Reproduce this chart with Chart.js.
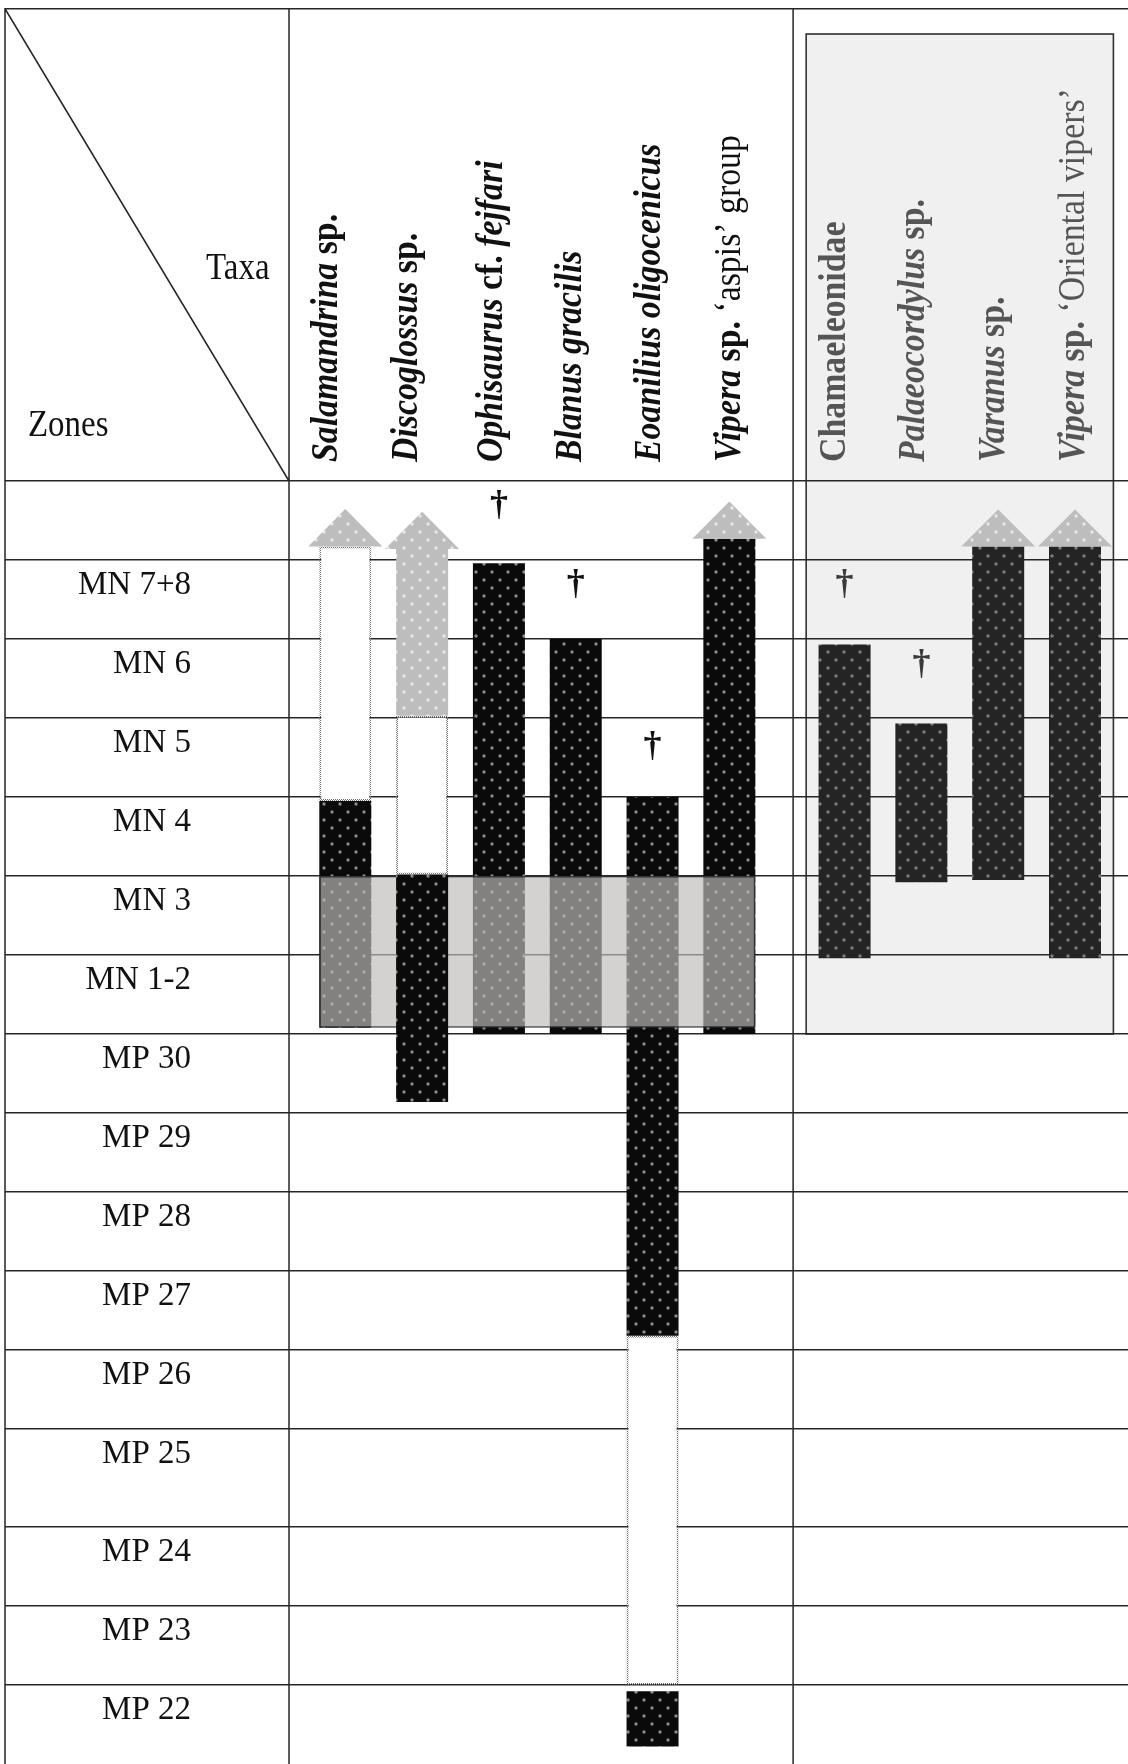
<!DOCTYPE html>
<html>
<head>
<meta charset="utf-8">
<title>Stratigraphic ranges of taxa</title>
<script src="https://cdn.jsdelivr.net/npm/chart.js@4.4.1/dist/chart.umd.min.js"></script>
<style>
  html, body { margin: 0; padding: 0; background: #fff; }
  canvas { display: block; }
</style>
</head>
<body>
<canvas id="chart" width="1128" height="1764"></canvas>
<script>
// taxa: six in the open part, four in the grey box
const taxa = ['Salamandrina sp.', 'Discoglossus sp.', 'Ophisaurus cf. fejfari', 'Blanus gracilis',
  'Eoanilius oligocenicus', 'Vipera sp. ‘aspis’ group',
  'Chamaeleonidae', 'Palaeocordylus sp.', 'Varanus sp.', 'Vipera sp. ‘Oriental vipers’'];
const taxonGroup = [1, 1, 1, 1, 1, 1, 2, 2, 2, 2];
const italicWords = ['Salamandrina', 'Discoglossus', 'Ophisaurus', 'fejfari', 'Blanus', 'gracilis',
  'Eoanilius', 'oligocenicus', 'Vipera', 'Palaeocordylus', 'Varanus'];

// zone rows, top to bottom (first row is the open one above MN 7+8)
const zones = ['', 'MN 7+8', 'MN 6', 'MN 5', 'MN 4', 'MN 3', 'MN 1-2', 'MP 30', 'MP 29',
  'MP 28', 'MP 27', 'MP 26', 'MP 25', 'MP 24', 'MP 23', 'MP 22'];

// [taxon, from, to] in zone rows, 0 = top of the open row
const records = [[0, 4.05, 6.92], [2, 1.04, 7], [3, 2, 7], [4, 4, 10.82], [4, 15.08, 15.78], [5, 0.73, 7]];
const recordsTop = [[1, 4.98, 7.86]];
const recordsBoxed = [[6, 2.07, 6.04], [7, 3.07, 5.08], [8, 0.83, 5.05], [9, 0.83, 6.04]];
const recordsGrey = [[1, 0.86, 2.97]];
const gaps = [[0, 0.83, 4.05], [1, 2.97, 4.98], [4, 10.82, 15]];
// [taxon, base, tip]
const arrows = [[0, 0.83, 0.355], [1, 0.86, 0.39], [5, 0.73, 0.26], [8, 0.83, 0.36], [9, 0.83, 0.36]];
// [taxon, row] of the dagger
const lastRecords = [[2, 0.3], [3, 1.31], [4, 3.36], [6, 1.31], [7, 2.32]];
// shaded MN 3 - MN 1-2 band
const bandTaxa = [0, 5];
const bandRows = [5, 6.92];

// layout
const W = 1128, H = 1764;
const PAD_LEFT = 5, PAD_TOP = 8;
const ZONE_COL = 284;
const HEAD_H = 473;
const X_MIN = -0.733, X_MAX = 10.19;
const BAR_W = 52, ARROW_W = 74;
const PX_PER_COL = (W - PAD_LEFT - ZONE_COL) / (X_MAX - X_MIN);
const ROW_WEIGHT = zones.map(z => z === 'MP 25' ? 1.24 : 1);
const LINE = '#262626';
const SERIF = '"Liberation Serif", "Times New Roman", serif';
const HEAD_SIZE = 38, SQUEEZE = 0.89;
const LABEL_Y = 462;
const LABEL_NUDGE = [-8, -5, 3, 5, 7.5, 10.5, 0, 3, 6, 9];
const BOX_TOP = 34;

const colX = i => i + (taxonGroup[i] === 2 ? 0.5 : 0);

// linear scale whose rows can have unequal heights
class ZoneScale extends Chart.LinearScale {
  warp(v) {
    let s = 0;
    ROW_WEIGHT.forEach((w, i) => { s += w * Math.min(Math.max(v - i, 0), 1); });
    return s;
  }
  getPixelForValue(v) {
    if (v === null || v === undefined || isNaN(v)) return NaN;
    return this.getPixelForDecimal(this.warp(v) / this.warp(this.max));
  }
}
ZoneScale.id = 'zone';
ZoneScale.defaults = Chart.LinearScale.defaults;
Chart.register(ZoneScale);

const canvas = document.getElementById('chart');
const ctx = canvas.getContext('2d');

function dots(base, dot) {
  const c = document.createElement('canvas');
  c.width = 16; c.height = 16;
  const g = c.getContext('2d');
  g.fillStyle = base;
  g.fillRect(0, 0, 16, 16);
  g.fillStyle = dot;
  [[4, 4], [12, 12]].forEach(([px, py]) => {
    g.beginPath(); g.arc(px, py, 1.7, 0, Math.PI * 2); g.fill();
  });
  return ctx.createPattern(c, 'repeat');
}
function dotLine(color) {
  const c = document.createElement('canvas');
  c.width = 2; c.height = 2;
  const g = c.getContext('2d');
  g.fillStyle = color;
  g.fillRect(0, 0, 1, 1);
  g.fillRect(1, 1, 1, 1);
  return ctx.createPattern(c, 'repeat');
}
const blackDots = dots('#0a0a0a', 'rgba(170,170,170,0.8)');
const darkDots = dots('#242424', 'rgba(155,155,155,0.75)');
const greyDots = dots('#bdbdbd', 'rgba(235,235,235,0.9)');
const dottedEdge = dotLine('#6e6e6e');

const bars = rows => rows.map(([i, from, to]) => ({ x: colX(i), y: [from, to] }));
const barStyle = { barThickness: BAR_W, grouped: false, inflateAmount: 0 };

function drawTaxon(c, name, bx, by, color) {
  c.save();
  c.translate(bx, by);
  c.rotate(-Math.PI / 2);
  c.scale(SQUEEZE, 1);
  c.fillStyle = color;
  c.textBaseline = 'alphabetic';
  c.textAlign = 'left';
  let u = 0, plain = false;
  name.split(' ').forEach((word, k) => {
    if (word.startsWith('‘')) plain = true;
    c.font = plain ? `${HEAD_SIZE}px ${SERIF}`
      : italicWords.includes(word) ? `italic bold ${HEAD_SIZE}px ${SERIF}` : `bold ${HEAD_SIZE}px ${SERIF}`;
    if (k > 0) u += c.measureText(' ').width;
    c.fillText(word, u, 0);
    u += c.measureText(word).width;
  });
  c.restore();
}

function squeezed(c, text, x0, y0) {
  c.save();
  c.translate(x0, y0);
  c.scale(SQUEEZE, 1);
  c.font = `${HEAD_SIZE - 1}px ${SERIF}`;
  c.fillStyle = '#111';
  c.textBaseline = 'alphabetic';
  c.fillText(text, 0, 0);
  c.restore();
}

const tablePlugin = {
  id: 'table',
  beforeDraw(chart) {
    const { ctx: c, scales: { x, y } } = chart;
    c.save();
    c.fillStyle = '#fff';
    c.fillRect(0, 0, W, H);
    const boxed = taxa.map((t, i) => i).filter(i => taxonGroup[i] === 2);
    const left = x.getPixelForValue(colX(boxed[0]) - 0.5);
    const right = x.getPixelForValue(colX(boxed[boxed.length - 1]) + 0.5);
    const bottom = y.getPixelForValue(zones.indexOf('MN 1-2') + 1);
    c.fillStyle = '#f0f0f0';
    c.fillRect(left, BOX_TOP, right - left, bottom - BOX_TOP);
    c.strokeStyle = '#303030';
    c.lineWidth = 1.6;
    c.strokeRect(left, BOX_TOP, right - left, bottom - BOX_TOP);
    c.restore();
  },
  afterDatasetsDraw(chart) {
    const { ctx: c, scales: { x, y } } = chart;
    c.save();
    arrows.forEach(([i, base, tip]) => {
      const cx = x.getPixelForValue(colX(i));
      const yb = y.getPixelForValue(base), yt = y.getPixelForValue(tip);
      c.beginPath();
      c.moveTo(cx - ARROW_W / 2, yb);
      c.lineTo(cx + ARROW_W / 2, yb);
      c.lineTo(cx, yt);
      c.closePath();
      c.fillStyle = greyDots;
      c.fill();
    });
    c.font = `bold 36px ${SERIF}`;
    c.textAlign = 'center';
    c.textBaseline = 'alphabetic';
    lastRecords.forEach(([i, row]) => {
      c.fillStyle = taxonGroup[i] === 2 ? '#3a3a3a' : '#111';
      c.fillText('†', x.getPixelForValue(colX(i)), y.getPixelForValue(row) + 10);
    });
    c.restore();
  },
  afterDraw(chart) {
    const { ctx: c, chartArea: area, scales: { x } } = chart;
    c.save();
    c.strokeStyle = LINE;
    c.lineWidth = 1.5;
    const divider = x.getPixelForValue(colX(5) + 0.83);
    c.beginPath();
    c.moveTo(PAD_LEFT, PAD_TOP + 0.75); c.lineTo(W, PAD_TOP + 0.75);
    [PAD_LEFT, area.left, divider].forEach(px => { c.moveTo(px, PAD_TOP); c.lineTo(px, H); });
    c.moveTo(PAD_LEFT, PAD_TOP + 0.75); c.lineTo(area.left, area.top);
    c.stroke();
    squeezed(c, 'Taxa', 206, 279);
    squeezed(c, 'Zones', 28, 436);
    taxa.forEach((name, i) => {
      const bx = x.getPixelForValue(colX(i)) + LABEL_NUDGE[i];
      drawTaxon(c, name, bx, LABEL_Y, taxonGroup[i] === 2 ? '#555' : '#111');
    });
    c.restore();
  }
};

new Chart(ctx, {
  type: 'bar',
  data: {
    datasets: [
      { label: 'Discoglossus sp.', data: bars(recordsTop), backgroundColor: blackDots, order: 0, ...barStyle },
      {
        label: 'MN 3 – MN 1-2',
        data: [{ x: (colX(bandTaxa[0]) + colX(bandTaxa[1])) / 2, y: bandRows }],
        backgroundColor: 'rgba(190,188,186,0.67)', borderColor: '#333', borderWidth: 1.5,
        borderSkipped: false, order: 1, grouped: false, inflateAmount: 0,
        barThickness: (colX(bandTaxa[1]) - colX(bandTaxa[0])) * PX_PER_COL + BAR_W
      },
      { label: 'records', data: bars(records), backgroundColor: blackDots, order: 2, ...barStyle },
      { label: 'records (box)', data: bars(recordsBoxed), backgroundColor: darkDots, order: 2, ...barStyle },
      { label: 'records (grey)', data: bars(recordsGrey), backgroundColor: greyDots, order: 2, ...barStyle },
      {
        label: 'gaps', data: bars(gaps), backgroundColor: '#fff', borderColor: dottedEdge,
        borderWidth: 2, borderSkipped: false, order: 3, ...barStyle
      }
    ]
  },
  options: {
    responsive: false,
    animation: false,
    devicePixelRatio: 1,
    events: [],
    layout: { padding: { left: PAD_LEFT, top: PAD_TOP, right: 0, bottom: 0 } },
    plugins: { legend: { display: false }, tooltip: { enabled: false } },
    scales: {
      x: {
        type: 'linear', position: 'top', min: X_MIN, max: X_MAX, offset: false,
        grid: { display: false }, border: { display: false }, ticks: { display: false },
        afterFit: s => { s.height = HEAD_H; }
      },
      y: {
        type: 'zone', position: 'left', reverse: true, min: 0, max: zones.length,
        border: { display: false },
        grid: {
          color: c => (c.tick && c.tick.value === zones.length) ? 'rgba(0,0,0,0)' : LINE,
          lineWidth: 1.5, drawTicks: true, tickLength: ZONE_COL
        },
        ticks: {
          stepSize: 1, autoSkip: false, padding: -186, labelOffset: 25,
          color: '#111', font: { family: SERIF, size: 33 },
          callback: v => zones[v] || ''
        },
        afterBuildTicks: s => { s.ticks = zones.map((z, i) => ({ value: i })).concat([{ value: zones.length }]); },
        afterFit: s => { s.width = ZONE_COL; }
      }
    }
  },
  plugins: [tablePlugin]
});
</script>
</body>
</html>
